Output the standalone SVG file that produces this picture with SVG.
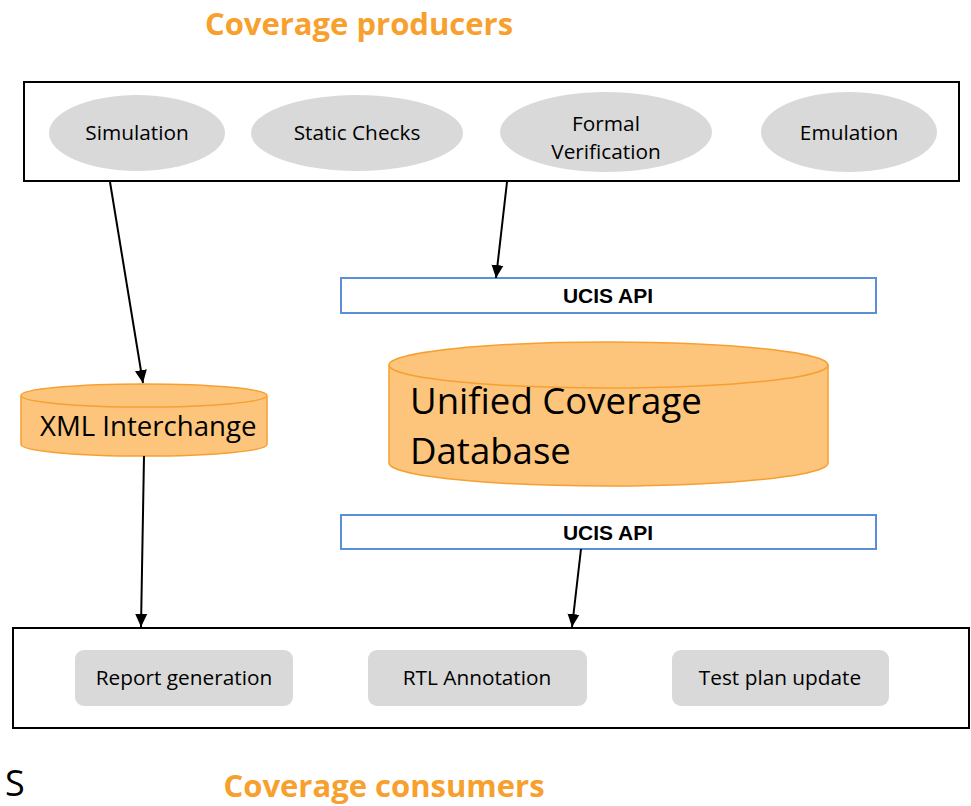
<svg xmlns="http://www.w3.org/2000/svg" width="971" height="806" viewBox="0 0 971 806">
<defs>
<style>
.title{font-family:"Open Sans","Liberation Sans",sans-serif;font-weight:bold;fill:#f7a02d;}
.frame{fill:#fff;stroke:#000;stroke-width:2;}
.oval{fill:#d9d9d9;stroke:none;}
.lbl{font-family:"Open Sans","Liberation Sans",sans-serif;font-size:20.8px;fill:#000;text-anchor:middle;}
.api{fill:#fff;stroke:#5b8fd8;stroke-width:2;}
.apit{font-family:"Liberation Sans",Arial,sans-serif;font-weight:bold;font-size:21px;fill:#000;text-anchor:middle;}
.cyl{fill:#fdc57b;stroke:#f5a030;stroke-width:1.5;}
.big{font-family:"Open Sans","Liberation Sans",sans-serif;fill:#000;}
.box{fill:#d9d9d9;stroke:none;}
.conn{stroke:#000;stroke-width:2;fill:none;marker-end:url(#arr);}
</style>
<marker id="arr" markerUnits="userSpaceOnUse" markerWidth="14" markerHeight="14" viewBox="0 0 14 14" refX="13" refY="7" orient="auto">
<path d="M0,1 L13,7 L0,13 Z" fill="#000"/>
</marker>
</defs>
<rect width="971" height="806" fill="#fff"/>
<text class="title" x="359" y="35" font-size="31" text-anchor="middle">Coverage producers</text>
<g id="producers">
<rect class="frame" x="24" y="82" width="935" height="99"/>
<g id="simulation"><ellipse class="oval" cx="137" cy="133" rx="88" ry="38"/><text class="lbl" x="137" y="140">Simulation</text></g>
<g id="static"><ellipse class="oval" cx="357" cy="133" rx="106" ry="38"/><text class="lbl" x="357" y="140">Static Checks</text></g>
<g id="formal"><ellipse class="oval" cx="606" cy="132" rx="106" ry="40"/><text class="lbl" x="606" y="131">Formal</text><text class="lbl" x="606" y="159">Verification</text></g>
<g id="emulation"><ellipse class="oval" cx="849" cy="132" rx="88" ry="40"/><text class="lbl" x="849" y="140">Emulation</text></g>
</g>
<g id="api1"><rect class="api" x="341" y="278" width="535" height="35"/><text class="apit" x="608" y="303">UCIS API</text></g>
<g id="ucdb">
<path class="cyl" d="M389,365 A219.5,23 0 0 1 828,365 L828,463 A219.5,23 0 0 1 389,463 Z"/>
<path class="cyl" d="M389,365 A219.5,23 0 0 0 828,365" fill="none"/>
<text class="big" x="410" y="414" font-size="36.6">Unified Coverage</text>
<text class="big" x="410" y="464" font-size="36.6">Database</text>
</g>
<g id="xml">
<path class="cyl" d="M21,395.5 A123,11.5 0 0 1 267,395.5 L267,444.5 A123,11.5 0 0 1 21,444.5 Z"/>
<path class="cyl" d="M21,395.5 A123,11.5 0 0 0 267,395.5" fill="none"/>
<text class="big" x="40" y="436" font-size="27.6">XML Interchange</text>
</g>
<g id="api2"><rect class="api" x="341" y="515" width="535" height="34"/><text class="apit" x="608" y="540">UCIS API</text></g>
<g id="consumers">
<rect class="frame" x="13" y="628" width="956" height="100"/>
<g id="report"><rect class="box" x="75" y="650" width="218" height="56" rx="9"/><text class="lbl" x="184" y="685">Report generation</text></g>
<g id="rtl"><rect class="box" x="368" y="650" width="219" height="56" rx="9"/><text class="lbl" x="477" y="685">RTL Annotation</text></g>
<g id="testplan"><rect class="box" x="672" y="650" width="217" height="56" rx="9"/><text class="lbl" x="780" y="685">Test plan update</text></g>
</g>
<text class="title" x="384" y="797" font-size="31" text-anchor="middle">Coverage consumers</text>
<text x="5" y="796" font-family="Open Sans, Liberation Sans, sans-serif" font-size="36" fill="#000">S</text>
<g id="connectors">
<line class="conn" x1="110" y1="182" x2="143" y2="383"/>
<line class="conn" x1="507" y1="182" x2="496" y2="278"/>
<line class="conn" x1="144" y1="456" x2="141" y2="627"/>
<line class="conn" x1="581" y1="549" x2="572" y2="627"/>
</g>
</svg>
